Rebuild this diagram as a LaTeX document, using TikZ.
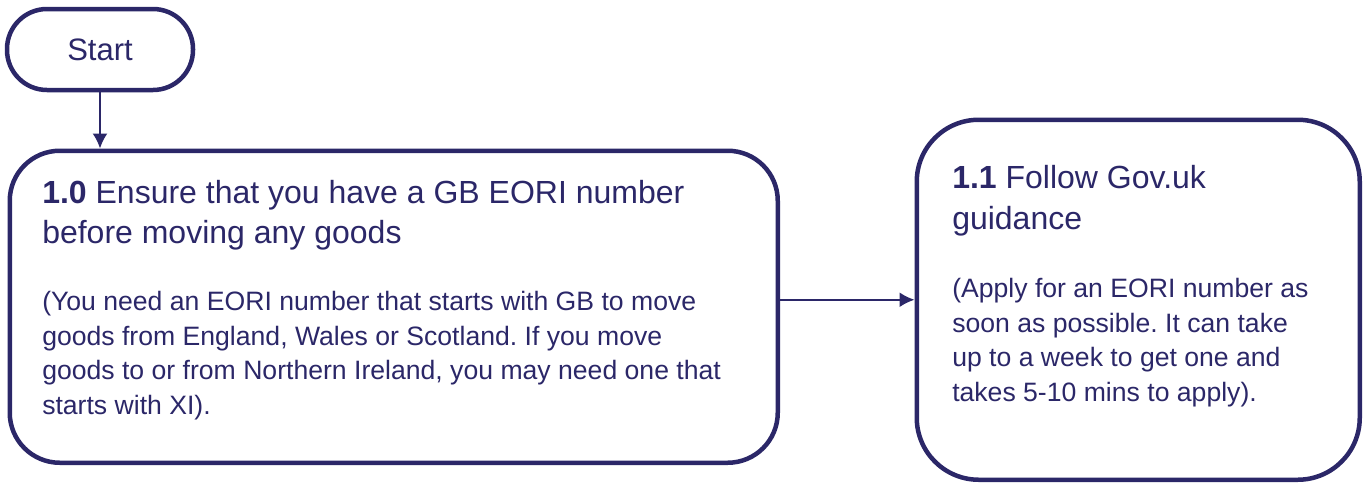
\documentclass[tikz,border=0pt]{standalone}
\usepackage{fontspec}
\setmainfont{Liberation Sans}
\usetikzlibrary{arrows.meta}
\definecolor{navy}{RGB}{43,39,104}
\tikzset{
  stepbox/.style={draw=navy, line width=4.5pt, inner sep=0pt, anchor=north west, text=navy},
  startbox/.style={draw=navy, line width=4.5pt, rounded corners=40pt, minimum width=186pt, minimum height=81pt, text=navy, font=\fontsize{31}{36}\selectfont},
  link/.style={draw=navy, line width=2pt, -{Latex[length=15pt,width=15pt]}}
}
% heading, body, gap, width, height
\newcommand{\steptext}[5]{\parbox[c][#5][t]{#4}{\raggedright\frenchspacing
  {\fontsize{32}{40.5}\selectfont #1\par}\vspace{#3}
  {\fontsize{26.6}{34.5}\selectfont #2\par}}}

\begin{document}
\begin{tikzpicture}[x=1pt,y=-1pt]
\useasboundingbox (0,0) rectangle (1363,483);

\node[startbox] (start) at (100,49.5) {Start};

\node[stepbox, rounded corners=50pt, inner xsep=32.5pt, inner ysep=29.5pt] (ensure) at (7.5,148.5)
  {\steptext{\textbf{1.0} Ensure that you have a GB EORI number\\before moving any goods}
  {(You need an EORI number that starts with GB to move\\goods from England, Wales or Scotland. If you move\\goods to or from Northern Ireland, you may need one that\\starts with XI).}{32.5pt}{703pt}{253pt}};

\node[stepbox, rounded corners=62pt, inner xsep=35.5pt, inner ysep=46pt] (follow) at (914.5,117.5)
  {\steptext{\textbf{1.1} Follow Gov.uk\\guidance}
  {(Apply for an EORI number as\\soon as possible. It can take\\up to a week to get one and\\takes 5-10 mins to apply).}{34pt}{372pt}{268pt}};

\draw[link] (start.south) -- (start.south |- ensure.north);
\draw[link] (follow.west -| ensure.east) -- (follow.west);

\end{tikzpicture}
\end{document}
